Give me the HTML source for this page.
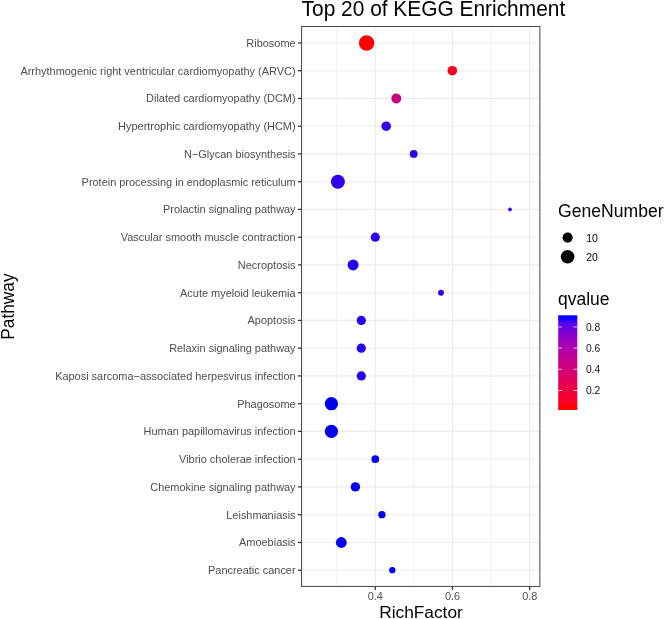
<!DOCTYPE html>
<html><head><meta charset="utf-8"><title>Top 20 of KEGG Enrichment</title>
<style>
html,body{margin:0;padding:0;background:#fff;}
svg{display:block;will-change:transform;font-family:"Liberation Sans",sans-serif;}
</style></head><body>
<svg width="664" height="619" viewBox="0 0 664 619">
<rect x="0" y="0" width="664" height="619" fill="#ffffff"/>
<defs><linearGradient id="cb" x1="0" y1="1" x2="0" y2="0">
<stop offset="0.025" stop-color="#FF0000"/>
<stop offset="0.075" stop-color="#FB001B"/>
<stop offset="0.125" stop-color="#F6002C"/>
<stop offset="0.175" stop-color="#F10039"/>
<stop offset="0.225" stop-color="#EC0046"/>
<stop offset="0.275" stop-color="#E70053"/>
<stop offset="0.325" stop-color="#E1005F"/>
<stop offset="0.375" stop-color="#DB006B"/>
<stop offset="0.425" stop-color="#D40077"/>
<stop offset="0.475" stop-color="#CD0082"/>
<stop offset="0.525" stop-color="#C6008F"/>
<stop offset="0.575" stop-color="#BD009B"/>
<stop offset="0.625" stop-color="#B400A7"/>
<stop offset="0.675" stop-color="#A900B3"/>
<stop offset="0.725" stop-color="#9E00BF"/>
<stop offset="0.775" stop-color="#9000CC"/>
<stop offset="0.825" stop-color="#7F00D9"/>
<stop offset="0.875" stop-color="#6A00E5"/>
<stop offset="0.925" stop-color="#4D00F2"/>
<stop offset="0.975" stop-color="#0000FF"/>
</linearGradient></defs>
<g stroke="#ECECEC" fill="none">
<line x1="336.7" y1="26.5" x2="336.7" y2="586.4" stroke-width="0.8"/>
<line x1="413.9" y1="26.5" x2="413.9" y2="586.4" stroke-width="0.8"/>
<line x1="491.1" y1="26.5" x2="491.1" y2="586.4" stroke-width="0.8"/>
<line x1="375.3" y1="26.5" x2="375.3" y2="586.4" stroke-width="1.1"/>
<line x1="452.5" y1="26.5" x2="452.5" y2="586.4" stroke-width="1.1"/>
<line x1="529.7" y1="26.5" x2="529.7" y2="586.4" stroke-width="1.1"/>
<line x1="301.6" y1="43.0" x2="539.9" y2="43.0" stroke-width="1.1"/>
<line x1="301.6" y1="70.7" x2="539.9" y2="70.7" stroke-width="1.1"/>
<line x1="301.6" y1="98.5" x2="539.9" y2="98.5" stroke-width="1.1"/>
<line x1="301.6" y1="126.2" x2="539.9" y2="126.2" stroke-width="1.1"/>
<line x1="301.6" y1="153.9" x2="539.9" y2="153.9" stroke-width="1.1"/>
<line x1="301.6" y1="181.7" x2="539.9" y2="181.7" stroke-width="1.1"/>
<line x1="301.6" y1="209.4" x2="539.9" y2="209.4" stroke-width="1.1"/>
<line x1="301.6" y1="237.2" x2="539.9" y2="237.2" stroke-width="1.1"/>
<line x1="301.6" y1="264.9" x2="539.9" y2="264.9" stroke-width="1.1"/>
<line x1="301.6" y1="292.7" x2="539.9" y2="292.7" stroke-width="1.1"/>
<line x1="301.6" y1="320.4" x2="539.9" y2="320.4" stroke-width="1.1"/>
<line x1="301.6" y1="348.2" x2="539.9" y2="348.2" stroke-width="1.1"/>
<line x1="301.6" y1="375.9" x2="539.9" y2="375.9" stroke-width="1.1"/>
<line x1="301.6" y1="403.7" x2="539.9" y2="403.7" stroke-width="1.1"/>
<line x1="301.6" y1="431.4" x2="539.9" y2="431.4" stroke-width="1.1"/>
<line x1="301.6" y1="459.2" x2="539.9" y2="459.2" stroke-width="1.1"/>
<line x1="301.6" y1="486.9" x2="539.9" y2="486.9" stroke-width="1.1"/>
<line x1="301.6" y1="514.7" x2="539.9" y2="514.7" stroke-width="1.1"/>
<line x1="301.6" y1="542.5" x2="539.9" y2="542.5" stroke-width="1.1"/>
<line x1="301.6" y1="570.2" x2="539.9" y2="570.2" stroke-width="1.1"/>
</g>
<circle cx="366.6" cy="43.0" r="7.70" fill="#FF0000"/>
<circle cx="452.3" cy="70.7" r="4.80" fill="#F9001F"/>
<circle cx="396.3" cy="98.5" r="4.95" fill="#CA0080"/>
<circle cx="386.2" cy="126.2" r="4.80" fill="#3A00E9"/>
<circle cx="413.7" cy="153.9" r="3.95" fill="#2F00EB"/>
<circle cx="337.9" cy="181.7" r="7.00" fill="#2F00EB"/>
<circle cx="510.0" cy="209.4" r="1.85" fill="#3A00E9"/>
<circle cx="375.3" cy="237.2" r="4.60" fill="#2F00EB"/>
<circle cx="353.1" cy="264.9" r="5.50" fill="#2000EE"/>
<circle cx="441.0" cy="292.7" r="2.95" fill="#2F00EB"/>
<circle cx="361.3" cy="320.4" r="4.60" fill="#2000EE"/>
<circle cx="361.3" cy="348.2" r="4.60" fill="#2000EE"/>
<circle cx="361.3" cy="375.9" r="4.60" fill="#2000EE"/>
<circle cx="331.4" cy="403.7" r="6.65" fill="#0000F0"/>
<circle cx="331.4" cy="431.4" r="6.65" fill="#0000F0"/>
<circle cx="375.3" cy="459.2" r="3.85" fill="#0000F0"/>
<circle cx="355.4" cy="486.9" r="4.70" fill="#0000F0"/>
<circle cx="381.9" cy="514.7" r="3.65" fill="#0000F0"/>
<circle cx="341.3" cy="542.5" r="5.40" fill="#0000F0"/>
<circle cx="392.3" cy="570.2" r="3.15" fill="#0000F0"/>
<rect x="301.6" y="26.5" width="238.3" height="559.9" fill="none" stroke="#3c3c3c" stroke-width="0.95"/>
<g stroke="#333333" stroke-width="1.25">
<line x1="297.9" y1="43.0" x2="301.6" y2="43.0"/>
<line x1="297.9" y1="70.7" x2="301.6" y2="70.7"/>
<line x1="297.9" y1="98.5" x2="301.6" y2="98.5"/>
<line x1="297.9" y1="126.2" x2="301.6" y2="126.2"/>
<line x1="297.9" y1="153.9" x2="301.6" y2="153.9"/>
<line x1="297.9" y1="181.7" x2="301.6" y2="181.7"/>
<line x1="297.9" y1="209.4" x2="301.6" y2="209.4"/>
<line x1="297.9" y1="237.2" x2="301.6" y2="237.2"/>
<line x1="297.9" y1="264.9" x2="301.6" y2="264.9"/>
<line x1="297.9" y1="292.7" x2="301.6" y2="292.7"/>
<line x1="297.9" y1="320.4" x2="301.6" y2="320.4"/>
<line x1="297.9" y1="348.2" x2="301.6" y2="348.2"/>
<line x1="297.9" y1="375.9" x2="301.6" y2="375.9"/>
<line x1="297.9" y1="403.7" x2="301.6" y2="403.7"/>
<line x1="297.9" y1="431.4" x2="301.6" y2="431.4"/>
<line x1="297.9" y1="459.2" x2="301.6" y2="459.2"/>
<line x1="297.9" y1="486.9" x2="301.6" y2="486.9"/>
<line x1="297.9" y1="514.7" x2="301.6" y2="514.7"/>
<line x1="297.9" y1="542.5" x2="301.6" y2="542.5"/>
<line x1="297.9" y1="570.2" x2="301.6" y2="570.2"/>
<line x1="375.3" y1="586.4" x2="375.3" y2="589.9"/>
<line x1="452.5" y1="586.4" x2="452.5" y2="589.9"/>
<line x1="529.7" y1="586.4" x2="529.7" y2="589.9"/>
</g>
<g font-size="10.95" fill="#4D4D4D" text-anchor="end">
<text x="295.6" y="46.9">Ribosome</text>
<text x="295.6" y="74.6">Arrhythmogenic right ventricular cardiomyopathy (ARVC)</text>
<text x="295.6" y="102.4">Dilated cardiomyopathy (DCM)</text>
<text x="295.6" y="130.1">Hypertrophic cardiomyopathy (HCM)</text>
<text x="295.6" y="157.8">N−Glycan biosynthesis</text>
<text x="295.6" y="185.6">Protein processing in endoplasmic reticulum</text>
<text x="295.6" y="213.3">Prolactin signaling pathway</text>
<text x="295.6" y="241.1">Vascular smooth muscle contraction</text>
<text x="295.6" y="268.8">Necroptosis</text>
<text x="295.6" y="296.6">Acute myeloid leukemia</text>
<text x="295.6" y="324.3">Apoptosis</text>
<text x="295.6" y="352.1">Relaxin signaling pathway</text>
<text x="295.6" y="379.8">Kaposi sarcoma−associated herpesvirus infection</text>
<text x="295.6" y="407.6">Phagosome</text>
<text x="295.6" y="435.3">Human papillomavirus infection</text>
<text x="295.6" y="463.1">Vibrio cholerae infection</text>
<text x="295.6" y="490.8">Chemokine signaling pathway</text>
<text x="295.6" y="518.6">Leishmaniasis</text>
<text x="295.6" y="546.4">Amoebiasis</text>
<text x="295.6" y="574.1">Pancreatic cancer</text>
</g>
<g font-size="10.9" fill="#4D4D4D" text-anchor="middle">
<text x="375.3" y="600">0.4</text>
<text x="452.5" y="600">0.6</text>
<text x="529.7" y="600">0.8</text>
</g>
<text transform="translate(301.6,15.8) scale(1,1.04)" font-size="20.9" fill="#000">Top 20 of KEGG Enrichment</text>
<text x="421" y="618" font-size="17.3" fill="#000" text-anchor="middle">RichFactor</text>
<text transform="translate(14.1,306.6) rotate(-90) scale(1,1.03)" font-size="17.3" fill="#000" text-anchor="middle">Pathway</text>
<text x="558" y="217" font-size="17.5" fill="#000" textLength="105.6" lengthAdjust="spacingAndGlyphs">GeneNumber</text>
<circle cx="567.6" cy="237.6" r="5.1" fill="#000"/>
<circle cx="567.6" cy="256.7" r="6.8" fill="#000"/>
<text x="586.3" y="242" font-size="10.4" fill="#000">10</text>
<text x="586.3" y="261" font-size="10.4" fill="#000">20</text>
<text x="558" y="304.5" font-size="17.5" fill="#000">qvalue</text>
<rect x="558.2" y="315.3" width="19.1" height="94.7" fill="url(#cb)"/>
<g stroke="#ffffff" stroke-width="1.0" stroke-opacity="0.75">
<line x1="558.2" y1="326.9" x2="562.0" y2="326.9"/><line x1="573.5" y1="326.9" x2="577.3" y2="326.9"/>
<line x1="558.2" y1="348.1" x2="562.0" y2="348.1"/><line x1="573.5" y1="348.1" x2="577.3" y2="348.1"/>
<line x1="558.2" y1="369.3" x2="562.0" y2="369.3"/><line x1="573.5" y1="369.3" x2="577.3" y2="369.3"/>
<line x1="558.2" y1="390.5" x2="562.0" y2="390.5"/><line x1="573.5" y1="390.5" x2="577.3" y2="390.5"/>
</g>
<g font-size="10.3" fill="#111">
<text x="585.9" y="331">0.8</text>
<text x="585.9" y="352">0.6</text>
<text x="585.9" y="373">0.4</text>
<text x="585.9" y="394">0.2</text>
</g>
</svg></body></html>
